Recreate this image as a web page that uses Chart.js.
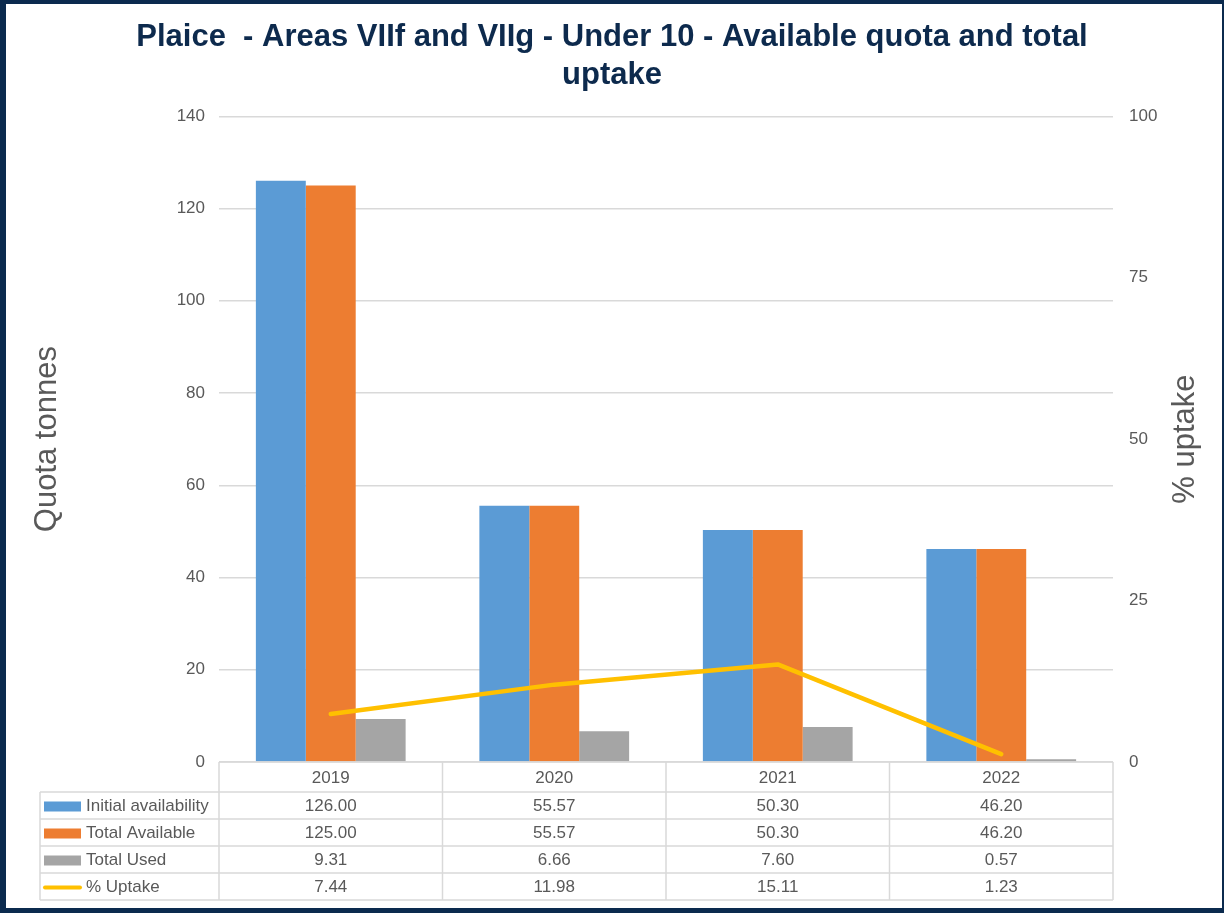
<!DOCTYPE html>
<html>
<head>
<meta charset="utf-8">
<script src="https://cdn.jsdelivr.net/npm/chart.js@4.4.0/dist/chart.umd.min.js"></script>
<style>
  html, body { margin: 0; padding: 0; background: #ffffff; }
  #wrap { position: relative; width: 1224px; height: 913px; overflow: hidden; }
  #frame { position: absolute; left: 0; top: 0; width: 1224px; height: 913px; box-sizing: border-box;
           border-style: solid; border-color: #0b2a4e; border-width: 4px 2px 5px 6px; pointer-events: none; }
</style>
</head>
<body>
<div id="wrap">
  <canvas id="c" width="1224" height="913"></canvas>
  <div id="frame"></div>
</div>
<script>
const titleLines = ['Plaice  - Areas VIIf and VIIg - Under 10 - Available quota and total', 'uptake'];
const categories = ['2019', '2020', '2021', '2022'];
const initialAvailability = [126.00, 55.57, 50.30, 46.20];
const totalAvailable = [125.00, 55.57, 50.30, 46.20];
const totalUsed = [9.31, 6.66, 7.60, 0.57];
const pctUptake = [7.44, 11.98, 15.11, 1.23];
const leftTicks = [0, 20, 40, 60, 80, 100, 120, 140];
const rightTicks = [0, 25, 50, 75, 100];

const FONT = "'Liberation Sans', Arial, sans-serif";
const TXT = '#595959';
const GRID = '#d9d9d9';

const tablePlugin = {
  id: 'dataTable',
  afterDraw(chart) {
    const { ctx, chartArea, scales } = chart;
    const x = scales.x;
    const top = chartArea.bottom;
    const right = chartArea.right;
    const headerH = 30, rowH = 27;
    const tableLeft = 40;
    const rows = chart.data.datasets;
    const bottom = top + headerH + rowH * rows.length;
    const bounds = [];
    for (let i = 0; i <= categories.length; i++) bounds.push(x.getPixelForValue(i - 0.5));

    ctx.save();
    ctx.strokeStyle = GRID;
    ctx.lineWidth = 1.5;
    ctx.beginPath();
    ctx.moveTo(bounds[0], top); ctx.lineTo(right, top);
    for (let r = 0; r <= rows.length; r++) {
      const yy = top + headerH + r * rowH;
      ctx.moveTo(tableLeft, yy); ctx.lineTo(right, yy);
    }
    ctx.moveTo(tableLeft, top + headerH); ctx.lineTo(tableLeft, bottom);
    bounds.forEach(b => { ctx.moveTo(b, top); ctx.lineTo(b, bottom); });
    ctx.stroke();

    ctx.fillStyle = TXT;
    ctx.font = '17px ' + FONT;
    ctx.textAlign = 'center';
    ctx.textBaseline = 'middle';
    categories.forEach((c, i) => {
      ctx.fillText(c, x.getPixelForValue(i), top + headerH / 2 + 1);
    });
    rows.forEach((ds, r) => {
      const cy = top + headerH + r * rowH + rowH / 2 + 1;
      if (ds.type === 'line') {
        ctx.strokeStyle = ds.borderColor;
        ctx.lineWidth = 4;
        ctx.lineCap = 'round';
        ctx.beginPath(); ctx.moveTo(45, cy); ctx.lineTo(80, cy); ctx.stroke();
      } else {
        ctx.fillStyle = ds.backgroundColor;
        ctx.fillRect(44, cy - 5, 37, 10);
      }
      ctx.fillStyle = TXT;
      ctx.textAlign = 'left';
      ctx.fillText(ds.label, 86, cy);
      ctx.textAlign = 'center';
      ds.data.forEach((v, i) => {
        ctx.fillText(v.toFixed(2), x.getPixelForValue(i), cy);
      });
    });

    // right axis title (reads bottom-to-top)
    ctx.save();
    ctx.translate(1185, (chartArea.top + chartArea.bottom) / 2);
    ctx.rotate(-Math.PI / 2);
    ctx.font = '31px ' + FONT;
    ctx.fillStyle = TXT;
    ctx.textAlign = 'center';
    ctx.textBaseline = 'middle';
    ctx.fillText('% uptake', 0, 0);
    ctx.restore();
    ctx.restore();
  }
};

new Chart(document.getElementById('c'), {
  data: {
    labels: categories,
    datasets: [
      { type: 'bar', label: 'Initial availability', data: initialAvailability, backgroundColor: '#5b9bd5', yAxisID: 'y', order: 1, categoryPercentage: 0.67, barPercentage: 1 },
      { type: 'bar', label: 'Total Available', data: totalAvailable, backgroundColor: '#ed7d31', yAxisID: 'y', order: 1, categoryPercentage: 0.67, barPercentage: 1 },
      { type: 'bar', label: 'Total Used', data: totalUsed, backgroundColor: '#a5a5a5', yAxisID: 'y', order: 1, categoryPercentage: 0.67, barPercentage: 1 },
      { type: 'line', label: '% Uptake', data: pctUptake, borderColor: '#ffc000', backgroundColor: '#ffc000', borderWidth: 4.5, pointRadius: 0, tension: 0, borderCapStyle: 'round', borderJoinStyle: 'round', yAxisID: 'y1', order: 0 }
    ]
  },
  options: {
    responsive: false,
    animation: false,
    layout: { padding: 0 },
    plugins: {
      legend: { display: false },
      tooltip: { enabled: false },
      title: {
        display: true,
        text: titleLines,
        color: '#0d2a4d',
        font: { family: FONT, size: 31, weight: 'bold', lineHeight: 1.23 },
        padding: { top: 18, bottom: 22 }
      }
    },
    scales: {
      x: {
        grid: { display: false, drawTicks: false },
        border: { display: false },
        ticks: { display: false },
        afterFit(s) { s.height = 151; }
      },
      y: {
        position: 'left',
        min: 0, max: 140,
        afterBuildTicks(s) { s.ticks = leftTicks.map(v => ({ value: v })); },
        grid: { color: GRID, lineWidth: 1.5, drawTicks: false },
        border: { display: false },
        ticks: { color: TXT, font: { family: FONT, size: 17 }, padding: 14 },
        title: { display: true, text: 'Quota tonnes', color: TXT, font: { family: FONT, size: 31 }, padding: { top: 29, bottom: 0 } },
        afterFit(s) { s.width = 219; }
      },
      y1: {
        position: 'right',
        min: 0, max: 100,
        afterBuildTicks(s) { s.ticks = rightTicks.map(v => ({ value: v })); },
        grid: { display: false, drawTicks: false },
        border: { display: false },
        ticks: { color: TXT, font: { family: FONT, size: 17 }, padding: 16 },
        afterFit(s) { s.width = 111; }
      }
    }
  },
  plugins: [tablePlugin]
});
</script>
</body>
</html>
